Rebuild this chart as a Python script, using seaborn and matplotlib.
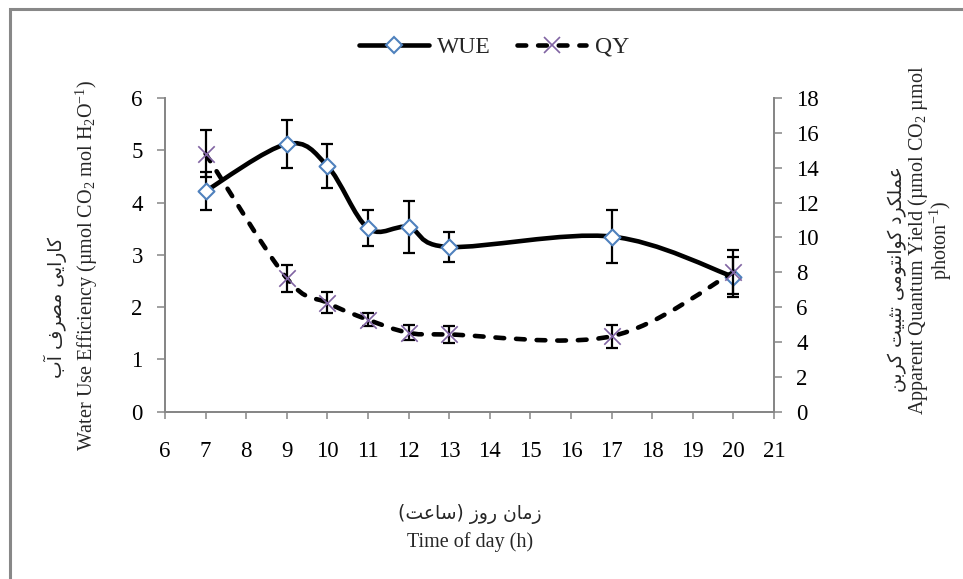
import numpy as np
import matplotlib
matplotlib.use("Agg")
import matplotlib.pyplot as plt
import seaborn as sns
from matplotlib.path import Path
from matplotlib.patches import PathPatch, Rectangle
from matplotlib.lines import Line2D

# data
hours = [7, 9, 10, 11, 12, 13, 17, 20]
wue = [4.22, 5.12, 4.70, 3.51, 3.53, 3.15, 3.35, 2.58]
wue_err = [0.36, 0.45, 0.42, 0.35, 0.50, 0.28, 0.50, 0.38]
qy = [14.8, 7.65, 6.25, 5.28, 4.53, 4.43, 4.33, 8.0]
qy_err = [1.35, 0.78, 0.60, 0.39, 0.42, 0.50, 0.67, 1.25]

x_ticks = list(range(6, 22))
wue_ticks = list(range(0, 7))
qy_ticks = list(range(0, 19, 2))

blue = "#4F81BD"
purple = "#8064A2"
gray = "#868686"

# minimal persian shaping (matplotlib has no arabic shaping)
FORMS = {
    '\u0627': ('\uFE8D', '\uFE8E', None, None),
    '\u0622': ('\uFE81', '\uFE82', None, None),
    '\u0628': ('\uFE8F', '\uFE90', '\uFE91', '\uFE92'),
    '\u062A': ('\uFE95', '\uFE96', '\uFE97', '\uFE98'),
    '\u062B': ('\uFE99', '\uFE9A', '\uFE9B', '\uFE9C'),
    '\u062F': ('\uFEA9', '\uFEAA', None, None),
    '\u0631': ('\uFEAD', '\uFEAE', None, None),
    '\u0632': ('\uFEAF', '\uFEB0', None, None),
    '\u0633': ('\uFEB1', '\uFEB2', '\uFEB3', '\uFEB4'),
    '\u0635': ('\uFEB9', '\uFEBA', '\uFEBB', '\uFEBC'),
    '\u0639': ('\uFEC9', '\uFECA', '\uFECB', '\uFECC'),
    '\u0641': ('\uFED1', '\uFED2', '\uFED3', '\uFED4'),
    '\u0644': ('\uFEDD', '\uFEDE', '\uFEDF', '\uFEE0'),
    '\u0645': ('\uFEE1', '\uFEE2', '\uFEE3', '\uFEE4'),
    '\u0646': ('\uFEE5', '\uFEE6', '\uFEE7', '\uFEE8'),
    '\u0648': ('\uFEED', '\uFEEE', None, None),
    '\u06A9': ('\uFB8E', '\uFB8F', '\uFB90', '\uFB91'),
    '\u06CC': ('\uFBFC', '\uFBFD', '\uFBFE', '\uFBFF'),
}


def fa(s):
    s = s.replace('\u0643', '\u06A9').replace('\u064A', '\u06CC')
    out = []
    for i, ch in enumerate(s):
        f = FORMS.get(ch)
        if f is None:
            out.append(ch)
            continue
        prev = s[i - 1] if i > 0 else ''
        nxt = s[i + 1] if i + 1 < len(s) else ''
        jp = prev in FORMS and FORMS[prev][2] is not None
        jn = f[2] is not None and nxt in FORMS
        if jp and jn:
            out.append(f[3])
        elif jp:
            out.append(f[1])
        elif jn:
            out.append(f[2])
        else:
            out.append(f[0])
    vis = ''.join(reversed(out))
    return vis.translate(str.maketrans('()', ')('))


def smooth(ax, x, y, **kw):
    # excel style smoothed line (bezier through the points)
    p = np.column_stack([x, y]).astype(float)
    n = len(p)
    verts = [p[0]]
    codes = [Path.MOVETO]
    for i in range(n - 1):
        a = p[i - 1] if i > 0 else p[i]
        d = p[i + 2] if i + 2 < n else p[i + 1]
        verts += [p[i] + (p[i + 1] - a) / 6, p[i + 1] - (d - p[i]) / 6, p[i + 1]]
        codes += [Path.CURVE4] * 3
    ax.add_patch(PathPatch(Path(verts, codes), fill=False, **kw))


sns.set_style("white")
plt.rcParams['font.family'] = ['Liberation Serif', 'DejaVu Sans']
plt.rcParams['mathtext.fontset'] = 'custom'
plt.rcParams['mathtext.rm'] = 'Liberation Serif'
plt.rcParams['mathtext.it'] = 'Liberation Serif:italic'

fig = plt.figure(figsize=(9.63, 5.79), dpi=100)
fig.subplots_adjust(left=165 / 963, right=774 / 963, bottom=1 - 411.7 / 579, top=1 - 98 / 579)
ax1 = fig.add_subplot(111)
ax2 = ax1.twinx()

smooth(ax1, hours, wue, edgecolor='black', lw=3.3, capstyle='round', zorder=2)
ax1.errorbar(hours, wue, yerr=wue_err, fmt='none', ecolor='black', elinewidth=1.6,
             capsize=4.5, capthick=1.6, zorder=3)
sns.scatterplot(x=hours, y=wue, ax=ax1, marker='D', s=66, facecolor='white',
                edgecolor=blue, linewidth=1.5, zorder=4)

smooth(ax2, hours, qy, edgecolor='black', lw=3.3, linestyle=(0, (1.9, 2.6)),
       capstyle='round', zorder=2)
ax2.errorbar(hours, qy, yerr=qy_err, fmt='none', ecolor='black', elinewidth=1.6,
             capsize=4.5, capthick=1.6, zorder=3)
sns.scatterplot(x=hours, y=qy, ax=ax2, marker='x', s=140, color=purple,
                linewidth=1.2, zorder=4)

ax1.set_xlim(6, 21)
ax1.set_ylim(0, 6)
ax2.set_ylim(0, 18)
ax1.set_xticks(x_ticks)
ax1.set_yticks(wue_ticks)
ax2.set_yticks(qy_ticks)

for ax in (ax1, ax2):
    ax.spines['top'].set_visible(False)
    for s in ('left', 'right', 'bottom'):
        ax.spines[s].set_color(gray)
        ax.spines[s].set_linewidth(1.3)
    ax.tick_params(axis='both', colors=gray, labelcolor='black', labelsize=16.5,
                   width=1.1, direction='out')
ax1.tick_params(axis='x', length=5, pad=16, bottom=True)
ax1.tick_params(axis='y', length=6, pad=10, left=True)
ax2.tick_params(axis='y', length=6, pad=10, right=True)
ax1.set_xlabel('')
ax1.set_ylabel('')
ax2.set_ylabel('')

# axis titles
fs = 14.5
fa_fs = 13.5
fig.text(55 / 963, 1 - 308 / 579, fa('کارایی مصرف آب'), rotation=90, ha='center', va='center',
         fontsize=fa_fs, family=['DejaVu Sans'])
fig.text(87 / 963, 1 - 265 / 579, 'Water Use Efficiency (µmol CO$_2$ mol H$_2$O$^{-1}$)',
         rotation=90, ha='center', va='center', fontsize=fs)
fig.text(897 / 963, 1 - 279 / 579, fa('عملکرد کوانتومی تثبیت کربن'), rotation=90,
         ha='center', va='center', fontsize=fa_fs, family=['DejaVu Sans'])
fig.text(930 / 963, 1 - 240 / 579, 'Apparent Quantum Yield (µmol CO$_2$ µmol\nphoton$^{-1}$)',
         rotation=90, ha='center', va='center', fontsize=fs, multialignment='center',
         linespacing=0.85)
fig.text(470 / 963, 1 - 514 / 579, fa('زمان روز (ساعت)'), ha='center', va='center',
         fontsize=fa_fs, family=['DejaVu Sans'])
fig.text(470 / 963, 1 - 542 / 579, 'Time of day (h)', ha='center', va='center', fontsize=fs)

handles = [
    Line2D([], [], color='black', lw=3.3, marker='D', markersize=8.2, mfc='white',
           mec=blue, mew=1.5),
    Line2D([], [], color='black', lw=3.3, linestyle=(0, (1.9, 2.6)), dash_capstyle='round',
           marker='x', markersize=11.8, mec=purple, mew=1.2),
]
fig.legend(handles, ['WUE', 'QY'], loc='center', bbox_to_anchor=(494 / 963, 1 - 47 / 579),
           ncol=2, frameon=False, fontsize=17, handlelength=2.95, handletextpad=0.35,
           columnspacing=1.1)

# chart area border
fig.patches.append(Rectangle((10 / 963, -0.1), 1.1, 1.1 - 9 / 579, transform=fig.transFigure,
                             fill=False, edgecolor='#888888', lw=2.2, clip_on=False))

fig.savefig('out.png', dpi=100)
